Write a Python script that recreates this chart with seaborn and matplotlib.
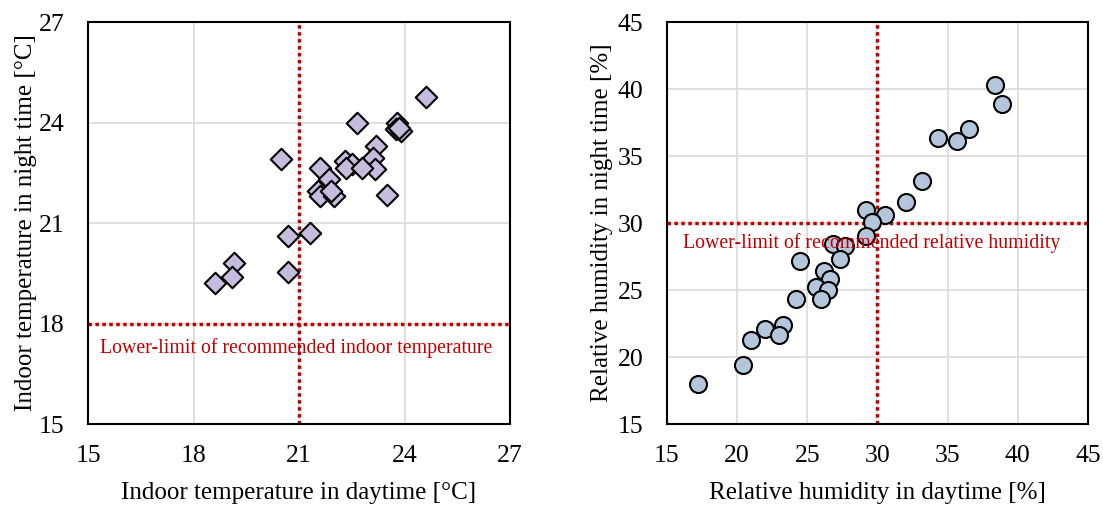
import matplotlib
matplotlib.use("Agg")
import matplotlib.pyplot as plt
import seaborn as sns
import pandas as pd

# Left panel: indoor temperature
temp_day = [24.6, 22.65, 23.8, 23.75, 23.9, 23.85, 23.2, 23.1, 23.15, 23.5,
            20.5, 21.6, 21.85, 22.3, 22.5, 22.35, 22.8, 21.55, 21.6, 22.0,
            21.9, 21.3, 20.7, 20.7, 19.15, 19.1, 18.6]
temp_night = [24.75, 24.0, 24.0, 23.8, 23.75, 23.85, 23.3, 22.95, 22.6, 21.85,
              22.9, 22.65, 22.3, 22.85, 22.75, 22.65, 22.65, 21.95, 21.8, 21.8,
              21.95, 20.7, 20.6, 19.55, 19.8, 19.4, 19.2]

# Right panel: relative humidity
rh_day = [38.4, 38.9, 36.5, 34.3, 35.7, 33.2, 32.0, 29.2, 30.5, 29.6, 29.2,
          26.8, 27.65, 27.3, 24.45, 26.2, 26.65, 25.6, 26.5, 26.0, 24.2,
          23.3, 21.95, 23.0, 21.0, 20.4, 17.2]
rh_night = [40.3, 38.85, 37.0, 36.35, 36.1, 33.1, 31.6, 31.0, 30.6, 30.05, 29.0,
            28.45, 28.3, 27.3, 27.2, 26.4, 25.8, 25.25, 25.0, 24.3, 24.3,
            22.4, 22.1, 21.65, 21.3, 19.4, 18.0]

temp_ticks = [15, 18, 21, 24, 27]
rh_ticks = [15, 20, 25, 30, 35, 40, 45]
temp_limit = [21, 18]
rh_limit = [30, 30]

sns.set_theme(style="whitegrid")
plt.rcParams['font.family'] = ['Liberation Serif', 'DejaVu Serif']
plt.rcParams['text.color'] = 'black'
plt.rcParams['axes.labelcolor'] = 'black'
plt.rcParams['xtick.color'] = 'black'
plt.rcParams['ytick.color'] = 'black'

fig = plt.figure(figsize=(11.03, 5.07), dpi=100)
ax1 = fig.add_axes([0.0798, 0.1637, 0.3826, 0.7929])
ax2 = fig.add_axes([0.6047, 0.1637, 0.3817, 0.7929])

red = "#C00000"

df1 = pd.DataFrame({"x": temp_day, "y": temp_night})
df2 = pd.DataFrame({"x": rh_day, "y": rh_night})

sns.scatterplot(data=df1, x="x", y="y", ax=ax1, marker="D", s=120,
                color="#C8BCDE", edgecolor="black", linewidth=1.5, zorder=3)
sns.scatterplot(data=df2, x="x", y="y", ax=ax2, marker="o", s=150,
                color="#B4C6DC", edgecolor="black", linewidth=1.5, zorder=3)

ax1.axvline(temp_limit[0], color=red, linestyle=(0, (1, 1)), linewidth=2.5, zorder=2)
ax1.axhline(temp_limit[1], color=red, linestyle=(0, (1, 1)), linewidth=2.5, zorder=2)
ax2.axvline(rh_limit[0], color=red, linestyle=(0, (1, 1)), linewidth=2.5, zorder=2)
ax2.axhline(rh_limit[1], color=red, linestyle=(0, (1, 1)), linewidth=2.5, zorder=2)

ax1.text(20.93, 17.27, "Lower-limit of recommended indoor temperature",
         color=red, fontsize=14.3, ha="center", va="center")
ax2.text(29.6, 28.47, "Lower-limit of recommended relative humidity",
         color=red, fontsize=14.3, ha="center", va="center")

for ax, ticks in ((ax1, temp_ticks), (ax2, rh_ticks)):
    ax.set_xlim(ticks[0], ticks[-1])
    ax.set_ylim(ticks[0], ticks[-1])
    ax.set_xticks(ticks)
    ax.set_yticks(ticks)
    ax.tick_params(axis="x", labelsize=18.5, length=0, pad=15)
    ax.tick_params(axis="y", labelsize=18.5, length=0, pad=17)
    ax.grid(True, color="#D9D9D9", linewidth=1.2)
    for sp in ax.spines.values():
        sp.set_color("black")
        sp.set_linewidth(1.5)

ax1.set_xlabel("Indoor temperature in daytime [°C]", fontsize=18, labelpad=11)
ax1.set_ylabel("Indoor temperature in night time [°C]", fontsize=18, labelpad=1)
ax2.set_xlabel("Relative humidity in daytime [%]", fontsize=18, labelpad=11)
ax2.set_ylabel("Relative humidity in night time [%]", fontsize=18, labelpad=3)

fig.savefig("out.png", dpi=100)
